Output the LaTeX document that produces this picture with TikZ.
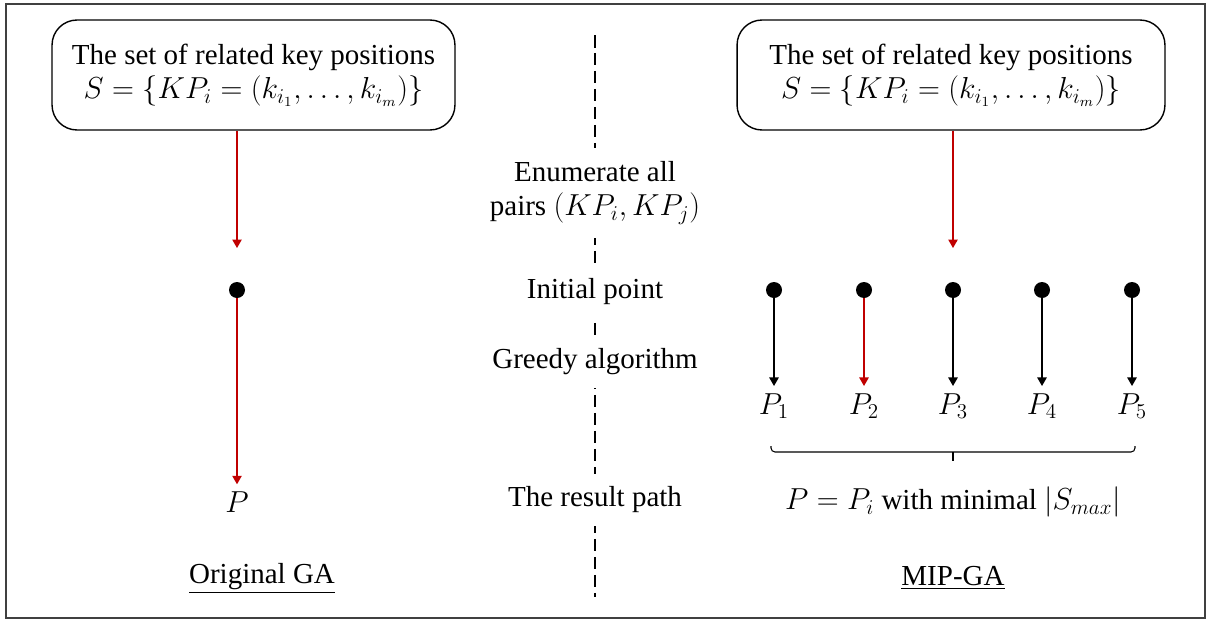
\documentclass[tikz,border=0pt]{standalone}
\usepackage{fontspec}
\setmainfont{Liberation Serif}
\usepackage{tikz}
\usetikzlibrary{arrows.meta,positioning,calc}
\definecolor{pathred}{RGB}{192,0,0}
\tikzset{
  >={Triangle[length=1.7mm,width=1.9mm]},
  setbox/.style={draw, rounded corners=5mm, align=center, minimum height=2.2cm, line width=0.8pt},
  stagelabel/.style={fill=white, align=center, inner xsep=2pt, inner ysep=2.6mm},
  keypoint/.style={circle, fill=black, minimum size=3.2mm, inner sep=0pt},
  pathlabel/.style={inner xsep=1pt, inner ysep=4pt},
  redarrow/.style={->, pathred, line width=0.6pt},
  blackarrow/.style={->, line width=0.6pt},
}

\begin{document}
\begin{tikzpicture}[x=0.02cm, y=-0.02cm, font=\fontsize{16.5}{19.5}\selectfont]
  \useasboundingbox (0,0) rectangle (1206,619);
  \draw[line width=0.7pt, black!75] (6,4) rectangle (1205,618);

  % middle separator
  \coordinate (septop) at (595,35);
  \coordinate (sepbot) at (595,597);
  \draw[dash pattern=on 2.5mm off 1.1mm, line width=0.6pt] (septop) -- (sepbot);

  \node[stagelabel] (enum) at (595,193) {Enumerate all\\pairs $(KP_i,KP_j)$};
  \node[stagelabel] (init) at (595,292) {Initial point};
  \node[stagelabel] (greedy) at (595,362) {Greedy algorithm};
  \node[stagelabel] (result) at (595,500) {The result path};

  % original GA
  \node[setbox, minimum width=8.06cm] (setL) at (253.5,75) {The set of related key positions\\$S=\{KP_i=(k_{i_1},\ldots,k_{i_m})\}$};
  \coordinate (startL) at (237,248);
  \node[keypoint] (ptL) at (237,290) {};
  \node[pathlabel] (pL) at (237,502) {$P$};
  \draw[redarrow] (setL.south -| startL) -- (startL);
  \draw[redarrow] (ptL) -- (pL.north);
  \node (nameL) at (262,578) {\underline{Original GA}};

  % MIP-GA
  \node[setbox, minimum width=8.56cm] (setR) at (951,75) {The set of related key positions\\$S=\{KP_i=(k_{i_1},\ldots,k_{i_m})\}$};
  \coordinate (startR) at (953,248);
  \draw[redarrow] (setR.south -| startR) -- (startR);

  \foreach \i/\x in {1/774,2/864,3/953,4/1042,5/1132} {
    \node[keypoint] (pt\i) at (\x,290) {};
    \node[pathlabel] (p\i) at (\x,406) {$P_\i$};
  }
  \foreach \i in {1,3,4,5}
    \draw[blackarrow] (pt\i) -- (p\i.north);
  \draw[redarrow] (pt2) -- (p2.north);

  \coordinate (braceL) at (771,446);
  \coordinate (braceR) at (1135,446);
  \draw[rounded corners=0.8mm, line width=0.6pt] (braceL) -- ++(0,6) -- ($(braceR)+(0,6)$) -- (braceR);
  \draw[line width=0.6pt] (953,452) -- (953,461);

  \node (pR) at (953,502) {$P=P_i$ with minimal $|S_{max}|$};
  \node (nameR) at (953,578) {\underline{MIP-GA}};
\end{tikzpicture}
\end{document}
